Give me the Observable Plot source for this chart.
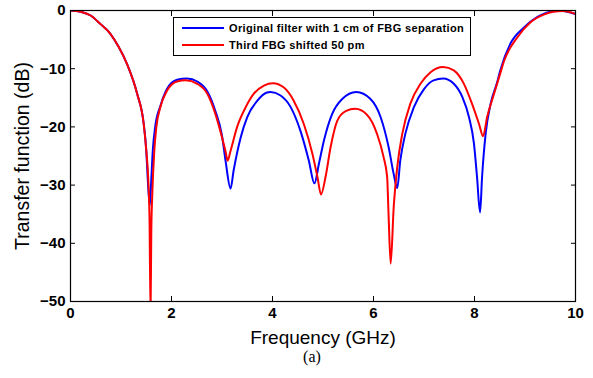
<!DOCTYPE html>
<html>
<head>
<meta charset="utf-8">
<script src="https://cdn.jsdelivr.net/npm/d3@7"></script>
<script src="https://cdn.jsdelivr.net/npm/@observablehq/plot@0.6"></script>
<style>
  body { margin: 0; background: #fff; }
  #wrap { position: relative; width: 593px; height: 378px; background: #fff; font-family: "Liberation Sans", Arial, sans-serif; }
  #legend { position: absolute; left: 173px; top: 17px; width: 296px; height: 37px; border: 1.5px solid #000; background: #fff; }
  .row { position: absolute; left: 0; height: 14px; display: flex; align-items: center; font-weight: bold; font-size: 11px; letter-spacing: 0.35px; white-space: nowrap; }
  .sw { width: 42px; height: 2px; margin-left: 8px; margin-right: 5px; }
  #caption { position: absolute; left: 0; width: 624px; top: 348px; line-height: 18px; text-align: center; font-family: "Liberation Serif", "Times New Roman", serif; font-size: 16px; }
</style>
</head>
<body>
<div id="wrap">
  <div id="chart"></div>
  <div id="legend"></div>
  <div id="caption">(a)</div>
</div>
<script>
const seriesNames = ["Original filter with 1 cm of FBG separation", "Third FBG shifted 50 pm"];
const seriesColors = ["#0000ff", "#ff0000"];
const xTicks = [0, 2, 4, 6, 8, 10];
const yTicks = [0, -10, -20, -30, -40, -50];

const freqBlue = [0, 0.2, 0.4, 0.59, 0.79, 0.95, 1.12, 1.32, 1.45, 1.50, 1.53, 1.57, 1.60, 1.63, 1.68, 1.78, 1.91, 2.11, 2.31, 2.51, 2.71, 2.87, 3.00, 3.07, 3.17, 3.23, 3.37, 3.50, 3.70, 3.89, 3.96, 4.16, 4.36, 4.55, 4.72, 4.83, 4.92, 5.02, 5.18, 5.38, 5.66, 5.94, 6.14, 6.30, 6.40, 6.47, 6.53, 6.63, 6.80, 7.00, 7.19, 7.38, 7.59, 7.76, 7.89, 7.99, 8.05, 8.11, 8.15, 8.22, 8.32, 8.45, 8.51, 8.71, 8.98, 9.24, 9.50, 9.70, 9.83, 10];
const dbBlue = [0, -0.2, -0.86, -2.3, -4.0, -6.2, -9.2, -14.3, -19.5, -24, -29, -33.5, -29, -24, -19.8, -16.4, -13.5, -11.9, -11.7, -12.2, -13.9, -17.3, -21.5, -25.8, -30.6, -27.5, -21.8, -18.3, -15.5, -14.1, -14.0, -14.6, -16.6, -20.6, -25.8, -29.7, -26.3, -22.3, -17.8, -15.2, -14.0, -15.2, -18.3, -23.5, -28.1, -30.5, -25.8, -21.2, -16.6, -13.5, -12.0, -11.7, -12.6, -14.9, -18.3, -22.9, -28.6, -34.7, -28.6, -21.2, -16.0, -12.3, -10.3, -5.7, -2.9, -1.15, -0.2, -0.05, -0.2, -0.6];

const freqRed = [0, 0.2, 0.4, 0.59, 0.79, 0.95, 1.12, 1.32, 1.45, 1.50, 1.54, 1.565, 1.585, 1.60, 1.62, 1.66, 1.70, 1.78, 1.91, 2.11, 2.28, 2.51, 2.71, 2.87, 3.00, 3.08, 3.11, 3.17, 3.30, 3.47, 3.63, 3.83, 4.01, 4.22, 4.42, 4.62, 4.79, 4.89, 4.96, 5.05, 5.15, 5.28, 5.45, 5.64, 5.87, 6.07, 6.20, 6.27, 6.30, 6.34, 6.40, 6.47, 6.57, 6.73, 6.93, 7.13, 7.38, 7.59, 7.79, 7.95, 8.09, 8.17, 8.25, 8.38, 8.51, 8.58, 8.85, 9.11, 9.37, 9.56, 9.76, 10];
const dbRed = [0, -0.2, -0.86, -2.3, -4.0, -6.2, -9.2, -14.3, -19.5, -24, -29, -36, -52, -38, -31.5, -24, -20, -16.6, -13.8, -12.2, -12.0, -12.6, -14.3, -17.8, -21.8, -24.6, -25.8, -24.1, -20.0, -16.6, -14.3, -12.9, -12.5, -13.2, -15.5, -19.5, -24.6, -28.6, -31.6, -28.6, -23.5, -19.0, -17.3, -16.9, -17.9, -21.2, -25.2, -28.6, -35.5, -43.5, -33.8, -26.9, -21.2, -16.0, -12.6, -10.6, -9.7, -10.3, -12.6, -16.0, -19.5, -21.6, -18.3, -14.5, -10.8, -8.8, -4.6, -2.0, -0.7, -0.2, -0.1, -0.6];

const blue = freqBlue.map((f, i) => ({f, db: dbBlue[i]}));
const red = freqRed.map((f, i) => ({f, db: dbRed[i]}));

const font = "'Liberation Sans', Arial, sans-serif";
const chart = Plot.plot({
  width: 593,
  height: 378,
  marginLeft: 70,
  marginRight: 18,
  marginTop: 10,
  marginBottom: 77,
  style: {fontFamily: font, color: "#000", background: "transparent"},
  x: {domain: [0, 10]},
  y: {domain: [-50, 0]},
  marks: [
    Plot.line(blue, {x: "f", y: "db", stroke: seriesColors[0], strokeWidth: 2, curve: "monotone-x", clip: true}),
    Plot.line(red, {x: "f", y: "db", stroke: seriesColors[1], strokeWidth: 2, curve: "monotone-x", clip: true}),
    Plot.frame({stroke: "#000", strokeWidth: 1.2}),
    Plot.axisX({anchor: "bottom", ticks: xTicks, tickSize: -5, tickPadding: 11, label: null, fontSize: 15, fontWeight: "bold"}),
    Plot.axisX({anchor: "top", ticks: xTicks, tickSize: -5, tickFormat: () => "", label: null}),
    Plot.axisY({anchor: "left", ticks: yTicks, tickSize: -5, tickPadding: 10, label: null, fontSize: 15, fontWeight: "bold"}),
    Plot.axisY({anchor: "right", ticks: yTicks, tickSize: -5, tickFormat: () => "", label: null}),
    Plot.text(["Frequency (GHz)"], {frameAnchor: "bottom", lineAnchor: "middle", dy: 36, fontSize: 19, fill: "#000"}),
    Plot.text(["Transfer function (dB)"], {frameAnchor: "left", textAnchor: "middle", dx: -48, rotate: -90, fontSize: 19.5, fill: "#000"})
  ]
});
document.getElementById("chart").appendChild(chart);

const legend = document.getElementById("legend");
seriesNames.forEach((name, i) => {
  const row = document.createElement("div");
  row.className = "row";
  row.style.top = (3 + i * 17) + "px";
  const sw = document.createElement("div");
  sw.className = "sw";
  sw.style.background = seriesColors[i];
  const t = document.createElement("span");
  t.textContent = name;
  row.appendChild(sw);
  row.appendChild(t);
  legend.appendChild(row);
});
</script>
</body>
</html>
